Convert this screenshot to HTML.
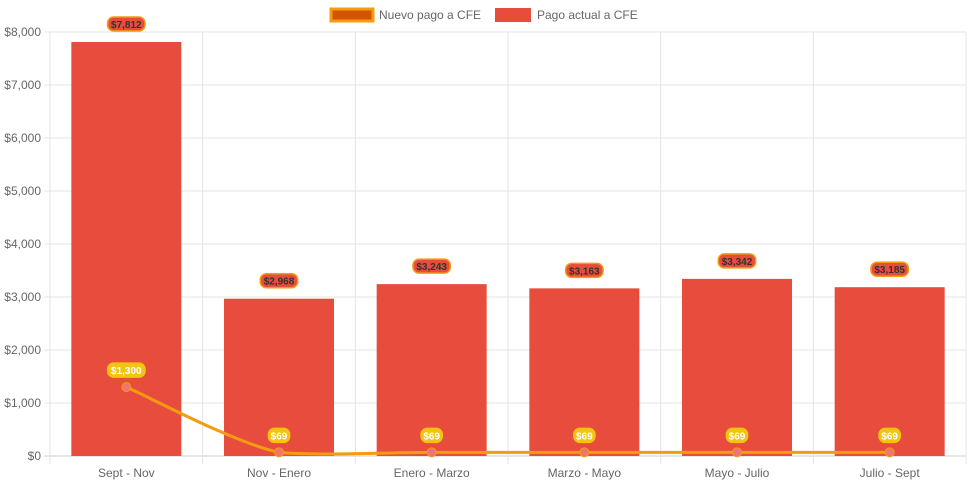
<!DOCTYPE html>
<html><head><meta charset="utf-8"><style>
body{margin:0;background:#fff;font-family:"Liberation Sans",Arial,sans-serif}
svg text{font-family:"Liberation Sans",Arial,sans-serif}
</style></head><body>
<svg id="c" width="971" height="485"></svg>
<script>
const categories=["Sept - Nov","Nov - Enero","Enero - Marzo","Marzo - Mayo","Mayo - Julio","Julio - Sept"];
const pagoActual=[7812,2968,3243,3163,3342,3185];
const nuevoPago=[1300,69,69,69,69,69];
const yTicks=[0,1000,2000,3000,4000,5000,6000,7000,8000];
const NS="http://www.w3.org/2000/svg";
const svg=document.getElementById('c');
const L=50,R=966,T=32,B=456,yMax=8000;
const cw=(R-L)/categories.length;
const x=i=>L+cw*(i+0.5);
const y=v=>B-(v/yMax)*(B-T);
const fmt=v=>"$"+v.toLocaleString("en-US");
function el(t,a,p){const e=document.createElementNS(NS,t);for(const k in a)e.setAttribute(k,a[k]);(p||svg).appendChild(e);return e;}
yTicks.forEach(v=>{
 const g=el('line',{x1:L-6,x2:R,y1:y(v),y2:y(v),stroke:v===0?'#ccc':'#e4e4e4','stroke-width':1});
 
 
 const t=el('text',{x:L-9,y:y(v)+4,'text-anchor':'end','font-size':12,fill:'#666'});
 t.textContent=fmt(v);
 
 
});
for(let i=0;i<=categories.length;i++){
 const g=el('line',{x1:L+cw*i,x2:L+cw*i,y1:T,y2:B+8,stroke:'#e4e4e4','stroke-width':1});
 
 
}
categories.forEach((c,i)=>{
 const t=el('text',{x:x(i),y:477,'text-anchor':'middle','font-size':12,fill:'#666'});
 t.textContent=c;
 
 
});
const bw=110;
pagoActual.forEach((v,i)=>{
 const r=el('rect',{x:x(i)-bw/2,y:y(v),width:bw,height:B-y(v),fill:'#e74c3c'});
 
 
});
const pts=nuevoPago.map((v,i)=>[x(i),y(v)]);
let d="M"+pts[0][0]+","+pts[0][1];
const tn=0.3;
for(let i=0;i<pts.length-1;i++){
 const p0=pts[Math.max(0,i-1)],p1=pts[i],p2=pts[i+1],p3=pts[Math.min(pts.length-1,i+2)];
 const c1=[p1[0]+(p2[0]-p0[0])*tn/2,Math.min(B,p1[1]+(p2[1]-p0[1])*tn/2)];
 const c2=[p2[0]-(p3[0]-p1[0])*tn/2,Math.min(B,p2[1]-(p3[1]-p1[1])*tn/2)];
 d+=" C"+c1+" "+c2+" "+p2;
}
const ln=el('path',{d:d,fill:'none',stroke:'#f39c12','stroke-width':3});


pts.forEach(p=>{
 const c=el('circle',{cx:p[0],cy:p[1],r:4.5,fill:'#f07470',stroke:'#f39c12','stroke-width':1});
 
 
});
function label(cx,cy,txt,bg,bd,fg,name){
 const w=txt.length*5.4+5;
 const r=el('rect',{x:cx-w/2,y:cy-7,width:w,height:14,rx:6,fill:bg,stroke:bd,'stroke-width':1.5});
 
 
 const t=el('text',{x:cx,y:cy+4,'text-anchor':'middle','font-size':10,'font-weight':'bold',fill:fg});
 t.textContent=txt;
 
 
}
pagoActual.forEach((v,i)=>label(x(i),y(v)-18,fmt(v),'#e74c3c','#f39c12','#333','bar-value-label'));
nuevoPago.forEach((v,i)=>label(x(i),y(v)-17,fmt(v),'#f1c40f','#f1c40f','#fff','line-value-label'));
const lg=el('g',{});


const s1=el('rect',{x:331,y:9,width:42,height:12,fill:'#d35400',stroke:'#f39c12','stroke-width':3},lg);


const t1=el('text',{x:379,y:19,'font-size':12,fill:'#666'},lg);t1.textContent="Nuevo pago a CFE";


const s2=el('rect',{x:495,y:8,width:36,height:14,fill:'#e74c3c'},lg);


const t2=el('text',{x:537,y:19,'font-size':12,fill:'#666'},lg);t2.textContent="Pago actual a CFE";


</script>
</body></html>
